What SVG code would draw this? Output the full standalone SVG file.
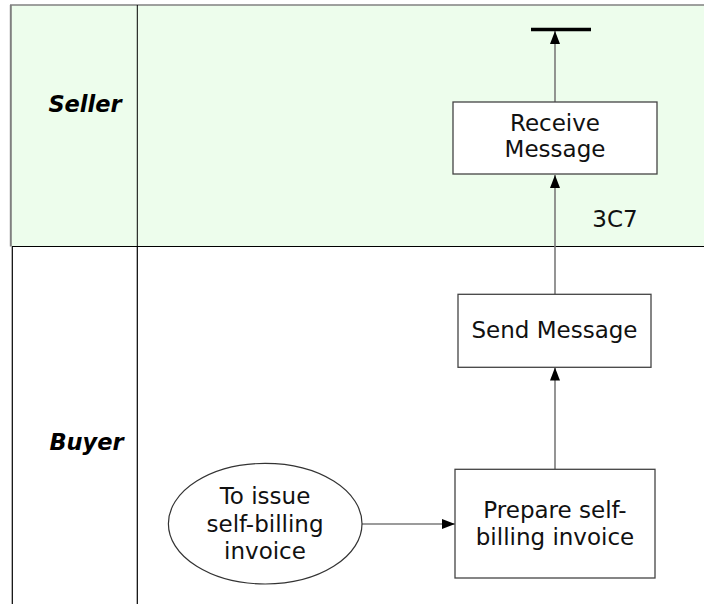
<svg xmlns="http://www.w3.org/2000/svg" width="704" height="604" viewBox="0 0 704 604">
<style>
.lane-label{font-family:"DejaVu Sans",Verdana,sans-serif;font-size:22.5px;font-weight:bold;font-style:italic;fill:#000;text-anchor:middle}
.t{font-family:"DejaVu Sans",Verdana,sans-serif;font-size:23px;fill:#111;text-anchor:middle}
.box{fill:#fff;stroke:#444;stroke-width:1.3}
.conn{stroke:#7a7a7a;stroke-width:1.6;fill:none}
</style>
<defs>
<marker id="ah" markerUnits="userSpaceOnUse" markerWidth="13" markerHeight="10" refX="13" refY="5" orient="auto">
<path d="M0,0 L13,5 L0,10 Z" fill="#000"/>
</marker>
</defs>
<g id="lane-seller">
<rect x="11" y="5" width="693" height="241.5" fill="#edfdec"/>
<line x1="10" y1="5" x2="704" y2="5" stroke="#808080" stroke-width="1.5"/>
<line x1="10.8" y1="5" x2="10.8" y2="246.5" stroke="#808080" stroke-width="2"/>
<line x1="12" y1="246.5" x2="704" y2="246.5" stroke="#000" stroke-width="1.2"/>
<line x1="137.3" y1="5" x2="137.3" y2="246.5" stroke="#000" stroke-width="1"/>
<text class="lane-label" x="85" y="112">Seller</text>
</g>
<g id="lane-buyer">
<line x1="12.3" y1="246.5" x2="12.3" y2="604" stroke="#000" stroke-width="1.2"/>
<line x1="137.3" y1="246.5" x2="137.3" y2="604" stroke="#000" stroke-width="1.2"/>
<text class="lane-label" x="86.5" y="450">Buyer</text>
</g>
<g id="connectors">
<line class="conn" x1="555" y1="102" x2="555" y2="31" marker-end="url(#ah)"/>
<line class="conn" x1="555" y1="294" x2="555" y2="175" marker-end="url(#ah)"/>
<line class="conn" x1="555" y1="469" x2="555" y2="367.5" marker-end="url(#ah)"/>
<line class="conn" x1="362" y1="524" x2="455" y2="524" marker-end="url(#ah)"/>
<text class="t" x="615" y="227">3C7</text>
</g>
<g id="end-bar">
<line x1="531" y1="29.5" x2="591" y2="29.5" stroke="#000" stroke-width="3.5"/>
</g>
<g id="receive-message">
<rect class="box" x="453" y="102" width="204" height="72"/>
<text class="t" x="555" y="131">Receive</text>
<text class="t" x="555" y="157">Message</text>
</g>
<g id="send-message">
<rect class="box" x="458" y="294.3" width="193" height="73"/>
<text class="t" x="554.5" y="338">Send Message</text>
</g>
<g id="prepare-invoice">
<rect class="box" x="455" y="469.3" width="200" height="108.7"/>
<text class="t" x="555" y="517.5">Prepare self-</text>
<text class="t" x="555" y="545">billing invoice</text>
</g>
<g id="start-event">
<ellipse cx="265.2" cy="523.7" rx="96.8" ry="60.3" fill="#fff" stroke="#333" stroke-width="1.2"/>
<text class="t" x="265" y="503.5">To issue</text>
<text class="t" x="265" y="531.5">self-billing</text>
<text class="t" x="265" y="558.5">invoice</text>
</g>
</svg>
